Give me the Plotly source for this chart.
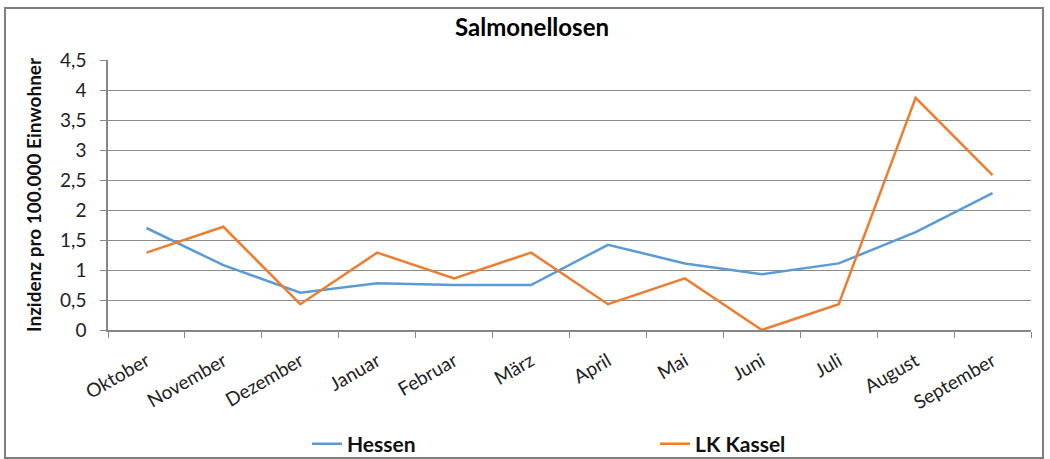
import plotly.graph_objects as go

months = ["Oktober", "November", "Dezember", "Januar", "Februar", "März",
          "April", "Mai", "Juni", "Juli", "August", "September"]
hessen = [1.70, 1.08, 0.62, 0.78, 0.75, 0.75, 1.42, 1.11, 0.93, 1.11, 1.63, 2.28]
lk_kassel = [1.29, 1.72, 0.43, 1.29, 0.86, 1.29, 0.43, 0.86, 0.0, 0.43, 3.87, 2.58]

FONT = "Lato, 'Open Sans', sans-serif"
L, R, T, B = 108, 19, 60, 129
W, H = 1050, 459
pw, ph = W - L - R, H - T - B

def px_x(x):
    return (x - L) / pw

def px_y(y):
    return (H - B - y) / ph

fig = go.Figure()
fig.add_trace(go.Scatter(x=months, y=hessen, mode="lines", name="<b>Hessen</b>",
                         line=dict(color="#5B9BD5", width=2.5)))
fig.add_trace(go.Scatter(x=months, y=lk_kassel, mode="lines", name="<b>LK Kassel</b>",
                         line=dict(color="#ED7D31", width=2.5)))

fig.update_layout(
    width=W, height=H,
    margin=dict(l=L, r=R, t=T, b=B, autoexpand=False),
    paper_bgcolor="white", plot_bgcolor="white",
    separators=",.",
    font=dict(family=FONT, color="#222222"),
    title=dict(text="<b>Salmonellosen</b>", x=px_x(532), xref="paper", xanchor="center",
               y=1 - 28 / H, yanchor="middle", font=dict(size=24, color="#000000")),
    xaxis=dict(type="category", range=[-0.5, 11.5], tickson="boundaries", ticks="outside",
               ticklen=6, tickcolor="#868686", showline=True, linecolor="#868686",
               linewidth=1.5, showgrid=False, tickangle=-30, automargin=False,
               ticklabelstandoff=11,
               tickfont=dict(size=19, color="#222222")),
    yaxis=dict(range=[0, 4.5], dtick=0.5, tick0=0, ticks="outside", ticklen=6,
               tickcolor="#868686", showline=True, linecolor="#868686", linewidth=1.5,
               showgrid=True, gridcolor="#8c8c8c", gridwidth=1.3, automargin=False,
               ticklabelstandoff=10,
               tickfont=dict(size=19, color="#222222"),
               title=dict(text="<b>Inzidenz pro 100.000 Einwohner</b>",
                          font=dict(size=19, color="#111111"), standoff=13)),
    legend=dict(orientation="h", x=px_x(307), xanchor="left", y=px_y(444), yanchor="middle",
                entrywidth=303, font=dict(size=21, color="#111111"),
                bgcolor="rgba(0,0,0,0)"),
    showlegend=True,
)

fig.add_shape(type="rect", xref="paper", yref="paper",
              x0=px_x(5), x1=px_x(1043), y0=px_y(458), y1=px_y(8),
              line=dict(color="#7f7f7f", width=2), fillcolor="rgba(0,0,0,0)", layer="below")

fig.write_html("out.html", config={"displayModeBar": False},
               post_script="document.body.style.margin='0';document.body.style.overflow='hidden';")
